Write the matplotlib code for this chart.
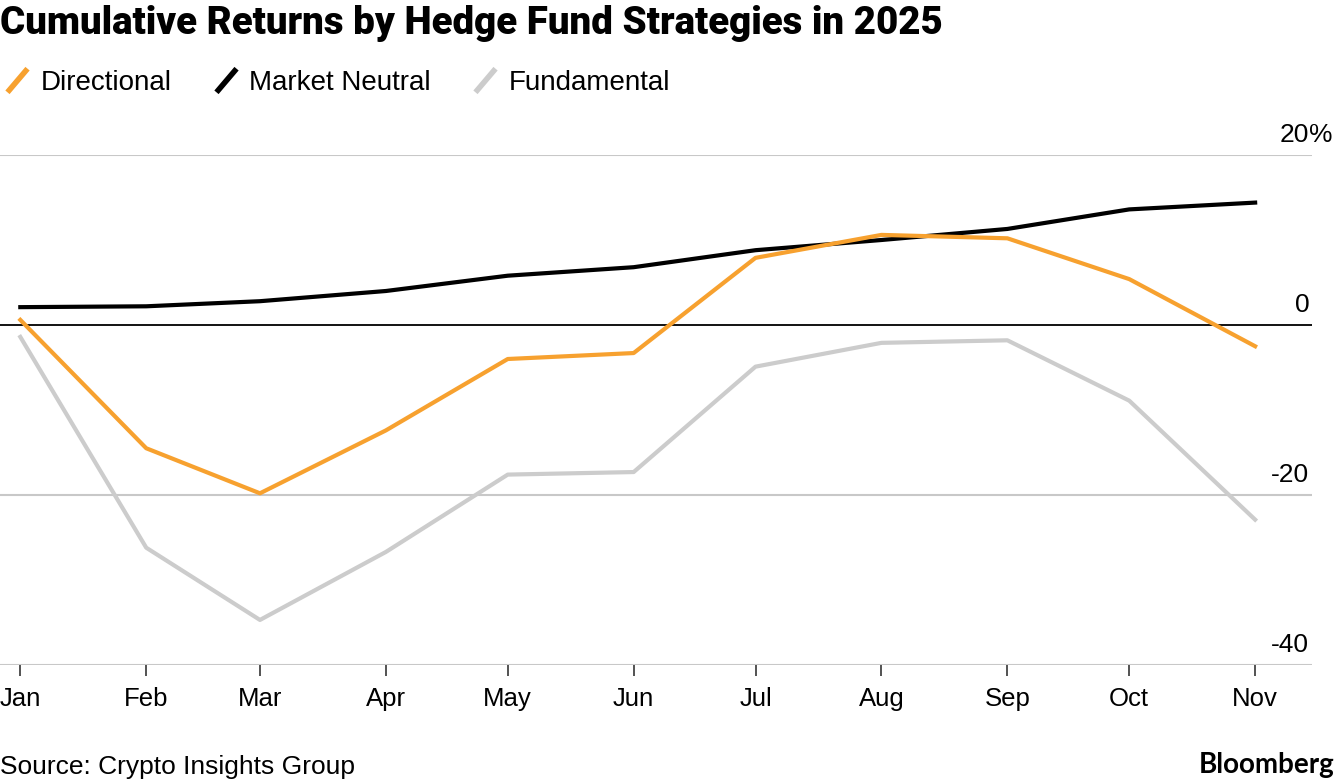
import numpy as np
import pandas as pd
import matplotlib
matplotlib.use("Agg")
import matplotlib.pyplot as plt
import matplotlib.dates as mdates
from matplotlib.lines import Line2D
from matplotlib.path import Path

plt.rcParams['font.family'] = ['Liberation Sans', 'DejaVu Sans']

months = pd.date_range('2025-01-01', '2025-11-01', freq='MS')
month_labels = ['Jan', 'Feb', 'Mar', 'Apr', 'May', 'Jun', 'Jul', 'Aug', 'Sep', 'Oct', 'Nov']

directional = [0.6, -14.5, -19.8, -12.4, -4.0, -3.3, 7.9, 10.6, 10.2, 5.4, -2.5]
market_neutral = [2.1, 2.2, 2.8, 4.0, 5.8, 6.8, 8.8, 10.0, 11.3, 13.6, 14.4]
fundamental = [-1.4, -26.2, -34.7, -26.7, -17.6, -17.3, -4.9, -2.1, -1.8, -8.9, -22.9]

y_ticks = [20, 0, -20, -40]

orange = '#f7a12f'
black = '#000000'
gray = '#cccccc'

fig = plt.figure(figsize=(13.36, 7.84), dpi=100)
ax = fig.add_axes([0.0, 1 - 665 / 784, 1312 / 1336, (665 - 155) / 784])

for yv in y_ticks:
    if yv == 0:
        ax.axhline(0, color='black', lw=1.3, zorder=2)
    else:
        ax.axhline(yv, color='#c8c8c8', lw=1.5, zorder=1)

ax.plot(months, fundamental, color=gray, lw=3, zorder=3, clip_on=False, solid_joinstyle='round')
ax.plot(months, market_neutral, color=black, lw=3, zorder=4, clip_on=False, solid_joinstyle='round')
ax.plot(months, directional, color=orange, lw=3, zorder=5, clip_on=False, solid_joinstyle='round')

ax.set_xlim(pd.Timestamp('2024-12-27'), pd.Timestamp('2025-11-15'))
ax.set_ylim(-40, 20)
ax.set_xticks(months)
ax.set_xticklabels(month_labels)
ax.tick_params(axis='x', direction='out', length=8, width=1.3, color='#444444',
               labelsize=18.5, pad=8)
ax.set_yticks([])
for s in ax.spines.values():
    s.set_visible(False)
ax.patch.set_alpha(0)

for yv in y_ticks:
    ax.annotate(str(yv), xy=(1.0, yv), xycoords=('axes fraction', 'data'),
                xytext=(-2, 6), textcoords='offset points',
                ha='right', va='bottom', fontsize=19)
ax.annotate('%', xy=(1.0, y_ticks[0]), xycoords=('axes fraction', 'data'),
            xytext=(-2, 6), textcoords='offset points',
            ha='left', va='bottom', fontsize=19)

fig.text(0.0, 1 - 23 / 784, 'Cumulative Returns by Hedge Fund Strategies in 2025',
         fontsize=27.7, fontweight=900, family=['Roboto', 'DejaVu Sans'],
         ha='left', va='center')

slash = Path([(-0.85, -1.0), (0.85, 1.0)], [Path.MOVETO, Path.LINETO])
handles = [Line2D([], [], color=c, marker=slash, markersize=17, markeredgewidth=4,
                  linestyle='none') for c in (orange, black, gray)]
fig.legend(handles, ['Directional', 'Market Neutral', 'Fundamental'],
           loc='center left', bbox_to_anchor=(-0.006, 1 - 83 / 784), ncol=3,
           frameon=False, fontsize=20, handlelength=1.0, handletextpad=0.35,
           columnspacing=1.45, borderaxespad=0)

fig.text(0.0, 1 - 767 / 784, 'Source: Crypto Insights Group', fontsize=19,
         ha='left', va='center')
fig.text(0.999, 1 - 765 / 784, 'Bloomberg', fontsize=20, fontweight='bold',
         ha='right', va='center', family=['Lato', 'DejaVu Sans'])

fig.savefig('out.png', dpi=100)
